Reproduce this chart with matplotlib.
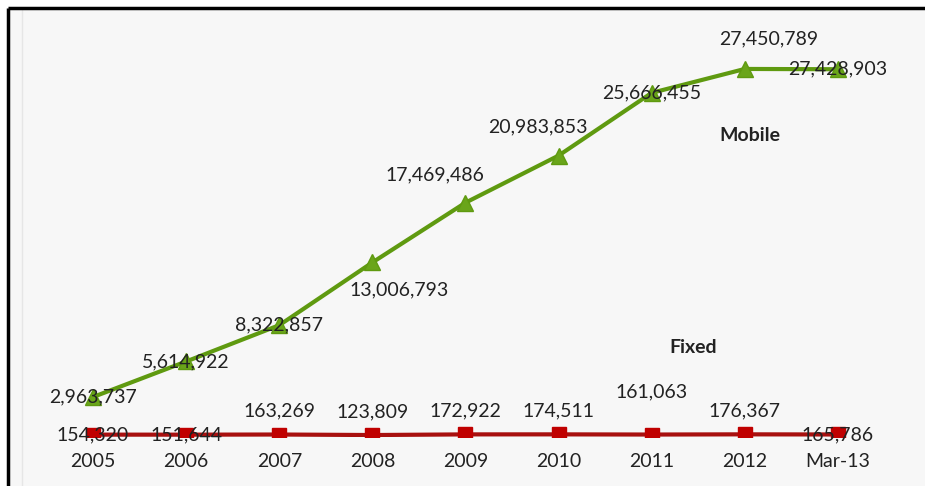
import matplotlib
matplotlib.use("Agg")
import matplotlib.pyplot as plt
from matplotlib.patches import Rectangle

categories = ["2005", "2006", "2007", "2008", "2009", "2010", "2011", "2012", "Mar-13"]
mobile = [2963737, 5614922, 8322857, 13006793, 17469486, 20983853, 25666455, 27450789, 27428903]
fixed = [154320, 151644, 163269, 123809, 172922, 174511, 161063, 176367, 165786]

W, H = 925, 486
fig = plt.figure(figsize=(W / 100, H / 100), dpi=100)
fig.patch.set_facecolor("white")
plt.rcParams['font.family'] = ['Lato', 'DejaVu Sans']

# background panel and frame (own axes below the chart)
bg = fig.add_axes([0, 0, 1, 1], zorder=0)
bg.set_xlim(0, W)
bg.set_ylim(H, 0)
bg.axis("off")
bg.add_patch(Rectangle((8, 8), W - 8, H - 8, facecolor="#f7f7f7", edgecolor="none"))
bg.plot([22, 22], [H, 10], color="#e6e6e6", lw=1)
bg.plot([8, 8], [H, 8], color="black", lw=2.5, solid_capstyle="butt")
bg.plot([8, W], [8, 8], color="black", lw=2.5, solid_capstyle="butt")

x0, x1 = 46.5, 884.5
ytop, ybot = 8, 436.7
ax = fig.add_axes([x0 / W, (H - ybot) / H, (x1 - x0) / W, (ybot - ytop) / H], zorder=1)
ax.set_facecolor("none")
for s in ax.spines.values():
    s.set_visible(False)

FS = 14
x = list(range(len(categories)))
ax.set_xlim(-0.5, len(categories) - 0.5)
ax.set_ylim(0, 32_000_000)
ax.set_yticks([])
ax.set_xticks(x)
ax.set_xticklabels(categories, fontsize=FS, color="#222222")
ax.tick_params(axis="x", length=0, pad=12)

ax.plot(x, mobile, color="#5f9a10", lw=3, marker="^", ms=11,
        markerfacecolor="#6aa51a", markeredgecolor="#5f9a10", zorder=3)
ax.plot(x, fixed, color="#a8100f", lw=3, marker="s", ms=9.5,
        markerfacecolor="#c00000", markeredgecolor="#c00000", zorder=3)

def fmt(v):
    return f"{v:,}"

# mobile labels (offsets in points)
mob_off = [(0, 0), (0, 0), (0, 0), (19, -20), (-22, 20), (-15, 21), (0, 0), (17, 22), (0, 0)]
for i, v in enumerate(mobile):
    dx, dy = mob_off[i]
    ax.annotate(fmt(v), (i, v), xytext=(dx, dy), textcoords="offset points",
                ha="center", va="center", fontsize=FS, color="#222222", zorder=4)

fix_off = [(0, 0), (0, 0), (0, 17), (0, 17), (0, 17), (0, 17), (0, 31), (0, 17), (0, 0)]
for i, v in enumerate(fixed):
    dx, dy = fix_off[i]
    ax.annotate(fmt(v), (i, v), xytext=(dx, dy), textcoords="offset points",
                ha="center", va="center", fontsize=FS, color="#222222", zorder=4)

ax.text(7.05, 22_500_000, "Mobile", ha="center", va="center", fontsize=FS,
        fontweight="bold", color="#222222")
ax.text(6.45, 6_650_000, "Fixed", ha="center", va="center", fontsize=FS,
        fontweight="bold", color="#222222")

fig.savefig("out.png", dpi=100)
